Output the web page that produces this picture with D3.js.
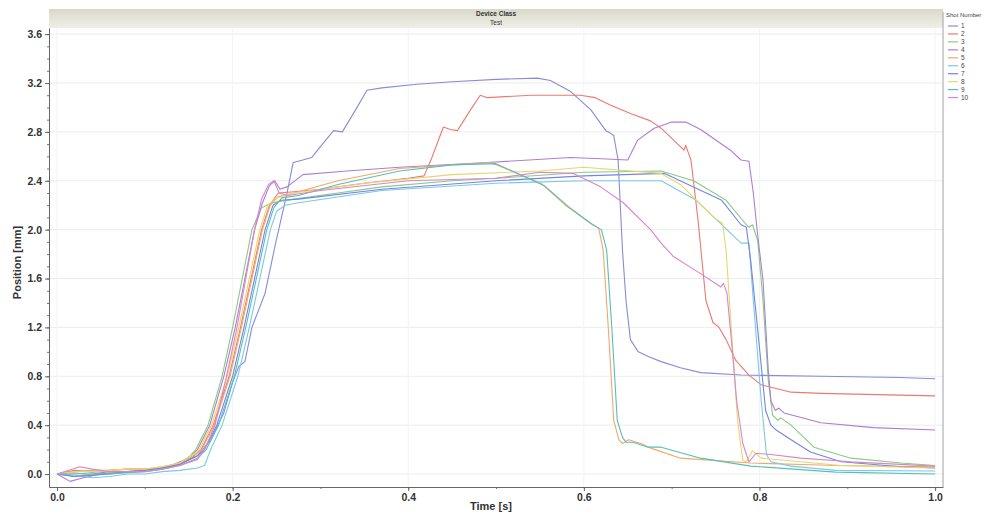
<!DOCTYPE html>
<html>
<head>
<meta charset="utf-8">
<script src="https://cdn.jsdelivr.net/npm/d3@7"></script>
<style>
  body { margin: 0; background: #fff; }
  text { font-family: "Liberation Sans", Arial, sans-serif; }
</style>
</head>
<body>
<div id="graph"></div>
<script>

// tick values
var yTicks = [0.0, 0.4, 0.8, 1.2, 1.6, 2.0, 2.4, 2.8, 3.2, 3.6];
var xTicks = [0.0, 0.2, 0.4, 0.6, 0.8, 1.0];

var shotNames = ["1", "2", "3", "4", "5", "6", "7", "8", "9", "10"];
var shotColors = ["#8a8ad8", "#ea7a70", "#86cc82", "#ab7fd2", "#f2a86a", "#7cc8e8", "#7484e2", "#e4d86c", "#56c0b6", "#db84ca"];

// [time s, position mm]
var shot1 = [[0,0],[0.02,-0.02],[0.04,0.0],[0.06,0.02],[0.08,0.02],[0.1,0.03],[0.12,0.05],[0.14,0.08],[0.16,0.15],[0.175,0.28],[0.19,0.5],[0.2,0.75],[0.207,0.88],[0.214,0.92],[0.222,1.2],[0.237,1.48],[0.249,1.89],[0.262,2.3],[0.269,2.55],[0.28,2.57],[0.29,2.59],[0.3,2.68],[0.315,2.81],[0.325,2.8],[0.34,2.98],[0.353,3.14],[0.37,3.16],[0.41,3.19],[0.45,3.21],[0.5,3.23],[0.547,3.24],[0.562,3.22],[0.585,3.13],[0.608,2.98],[0.625,2.81],[0.63,2.79],[0.634,2.77],[0.639,2.57],[0.644,1.83],[0.648,1.42],[0.653,1.1],[0.662,1.0],[0.674,0.96],[0.688,0.92],[0.71,0.87],[0.733,0.83],[0.779,0.81],[0.87,0.8],[0.96,0.79],[1.0,0.78]];
var shot2 = [[0,0],[0.02,0.03],[0.04,0.02],[0.06,0.03],[0.08,0.04],[0.1,0.04],[0.12,0.05],[0.14,0.08],[0.155,0.14],[0.164,0.2],[0.178,0.4],[0.196,0.8],[0.209,1.2],[0.221,1.6],[0.233,2.0],[0.242,2.2],[0.252,2.3],[0.27,2.31],[0.3,2.33],[0.35,2.38],[0.4,2.42],[0.418,2.44],[0.427,2.59],[0.44,2.84],[0.448,2.82],[0.456,2.81],[0.47,2.97],[0.482,3.1],[0.49,3.08],[0.54,3.1],[0.596,3.1],[0.613,3.08],[0.63,3.02],[0.653,2.95],[0.676,2.89],[0.688,2.83],[0.714,2.65],[0.716,2.69],[0.722,2.57],[0.73,2.08],[0.739,1.42],[0.747,1.24],[0.754,1.2],[0.762,1.1],[0.773,0.93],[0.788,0.81],[0.802,0.73],[0.836,0.67],[0.87,0.66],[1.0,0.64]];
var shot3 = [[0,0],[0.02,0.01],[0.04,-0.01],[0.06,0.01],[0.08,0.02],[0.1,0.03],[0.12,0.05],[0.14,0.09],[0.152,0.15],[0.158,0.2],[0.172,0.4],[0.188,0.8],[0.2,1.2],[0.211,1.6],[0.222,2.0],[0.233,2.18],[0.245,2.22],[0.27,2.25],[0.32,2.3],[0.37,2.35],[0.45,2.4],[0.5,2.42],[0.6,2.47],[0.688,2.48],[0.725,2.4],[0.762,2.24],[0.785,2.04],[0.788,2.02],[0.792,2.04],[0.798,1.91],[0.804,1.42],[0.81,0.77],[0.815,0.48],[0.821,0.44],[0.824,0.46],[0.836,0.4],[0.862,0.22],[0.904,0.13],[0.961,0.09],[1.0,0.07]];
var shot4 = [[0,0],[0.015,-0.06],[0.03,-0.03],[0.05,0.0],[0.07,0.01],[0.09,0.02],[0.11,0.04],[0.13,0.07],[0.15,0.13],[0.16,0.2],[0.174,0.4],[0.19,0.8],[0.203,1.2],[0.214,1.6],[0.225,2.0],[0.234,2.22],[0.242,2.36],[0.248,2.4],[0.254,2.33],[0.262,2.35],[0.28,2.45],[0.33,2.48],[0.39,2.51],[0.49,2.55],[0.585,2.59],[0.62,2.58],[0.65,2.57],[0.661,2.73],[0.68,2.83],[0.7,2.88],[0.716,2.88],[0.733,2.82],[0.767,2.65],[0.779,2.57],[0.788,2.56],[0.793,2.3],[0.798,1.95],[0.804,1.59],[0.81,0.85],[0.813,0.6],[0.818,0.52],[0.822,0.54],[0.828,0.5],[0.87,0.42],[0.93,0.38],[1.0,0.36]];
var shot5 = [[0,0],[0.02,0.02],[0.04,0.03],[0.06,0.03],[0.08,0.04],[0.1,0.04],[0.12,0.06],[0.14,0.09],[0.155,0.15],[0.165,0.2],[0.179,0.4],[0.197,0.8],[0.21,1.2],[0.222,1.6],[0.234,2.0],[0.243,2.2],[0.252,2.27],[0.27,2.3],[0.32,2.4],[0.39,2.5],[0.45,2.53],[0.494,2.55],[0.551,2.38],[0.579,2.2],[0.608,2.05],[0.611,2.04],[0.617,2.01],[0.622,1.83],[0.628,1.18],[0.634,0.44],[0.64,0.28],[0.644,0.25],[0.651,0.28],[0.665,0.25],[0.677,0.21],[0.71,0.13],[0.79,0.09],[0.887,0.07],[1.0,0.06]];
var shot6 = [[0,0],[0.02,-0.01],[0.04,-0.03],[0.06,-0.02],[0.08,0.0],[0.1,0.0],[0.12,0.02],[0.14,0.03],[0.16,0.05],[0.168,0.07],[0.175,0.2],[0.188,0.4],[0.206,0.8],[0.219,1.2],[0.231,1.6],[0.243,2.0],[0.25,2.15],[0.26,2.2],[0.275,2.22],[0.37,2.32],[0.5,2.38],[0.6,2.4],[0.688,2.4],[0.728,2.24],[0.779,1.89],[0.788,1.89],[0.793,1.42],[0.802,0.6],[0.808,0.16],[0.813,0.1],[0.836,0.065],[0.887,0.03],[1.0,0.025]];
var shot7 = [[0,0],[0.02,-0.02],[0.04,-0.01],[0.06,0.0],[0.08,0.02],[0.1,0.03],[0.12,0.05],[0.14,0.08],[0.16,0.15],[0.168,0.2],[0.182,0.4],[0.2,0.8],[0.213,1.2],[0.225,1.6],[0.237,2.0],[0.246,2.2],[0.255,2.24],[0.275,2.25],[0.37,2.33],[0.5,2.4],[0.6,2.44],[0.692,2.46],[0.757,2.24],[0.779,2.04],[0.785,2.02],[0.79,1.75],[0.798,1.18],[0.807,0.52],[0.813,0.4],[0.819,0.36],[0.836,0.28],[0.858,0.18],[0.893,0.1],[0.961,0.06],[1.0,0.05]];
var shot8 = [[0,0],[0.02,0.02],[0.04,0.02],[0.06,0.03],[0.08,0.04],[0.1,0.04],[0.12,0.06],[0.14,0.09],[0.155,0.16],[0.162,0.2],[0.176,0.4],[0.194,0.8],[0.207,1.2],[0.219,1.6],[0.231,2.0],[0.24,2.2],[0.25,2.26],[0.27,2.3],[0.35,2.38],[0.45,2.45],[0.55,2.48],[0.6,2.51],[0.688,2.46],[0.71,2.37],[0.748,2.1],[0.758,2.05],[0.762,1.83],[0.768,1.18],[0.775,0.44],[0.781,0.11],[0.785,0.1],[0.792,0.19],[0.802,0.13],[0.847,0.1],[0.893,0.07],[1.0,0.05]];
var shot9 = [[0,0],[0.02,0.0],[0.04,0.01],[0.06,0.0],[0.08,0.01],[0.1,0.02],[0.12,0.04],[0.14,0.07],[0.16,0.13],[0.17,0.2],[0.184,0.4],[0.202,0.8],[0.215,1.2],[0.227,1.6],[0.239,2.0],[0.247,2.18],[0.256,2.26],[0.275,2.28],[0.32,2.37],[0.39,2.48],[0.45,2.53],[0.5,2.54],[0.555,2.36],[0.582,2.19],[0.61,2.04],[0.62,2.0],[0.626,1.83],[0.632,1.18],[0.638,0.44],[0.644,0.3],[0.648,0.26],[0.656,0.26],[0.673,0.22],[0.688,0.22],[0.733,0.13],[0.79,0.065],[0.887,0.016],[1.0,0.0]];
var shot10 = [[0,0],[0.026,0.06],[0.04,0.04],[0.06,0.02],[0.08,0.02],[0.1,0.02],[0.12,0.04],[0.14,0.07],[0.16,0.12],[0.168,0.2],[0.18,0.4],[0.193,0.8],[0.205,1.2],[0.215,1.6],[0.225,2.0],[0.233,2.25],[0.241,2.37],[0.247,2.4],[0.253,2.3],[0.263,2.28],[0.3,2.32],[0.4,2.4],[0.5,2.42],[0.55,2.47],[0.588,2.46],[0.619,2.35],[0.645,2.22],[0.676,2.0],[0.688,1.89],[0.702,1.78],[0.733,1.64],[0.756,1.53],[0.759,1.56],[0.763,1.48],[0.768,1.1],[0.774,0.6],[0.781,0.25],[0.788,0.1],[0.796,0.17],[0.813,0.16],[0.847,0.13],[0.904,0.1],[1.0,0.065]];

var shots = [shot1, shot2, shot3, shot4, shot5, shot6, shot7, shot8, shot9, shot10];

var W = 995, H = 514;
var plot = {left: 49, right: 943, top: 28, bottom: 487};

var svg = d3.select('#graph')
  .append('svg')
    .attr("width", W)
    .attr("height", H);

var x = d3.scaleLinear()
    .domain([-0.0091, 1.009])
    .range([plot.left, plot.right]);

var y = d3.scaleLinear()
    .domain([-0.106, 3.65])
    .range([plot.bottom, plot.top]);

// header band
var grad = svg.append("defs").append("linearGradient")
    .attr("id", "hdr").attr("x1", 0).attr("x2", 0).attr("y1", 0).attr("y2", 1);
grad.append("stop").attr("offset", "0%").attr("stop-color", "#d9d9c9");
grad.append("stop").attr("offset", "100%").attr("stop-color", "#efefe8");

svg.append("rect")
    .attr("x", plot.left)
    .attr("y", 9)
    .attr("width", plot.right - plot.left)
    .attr("height", plot.top - 9)
    .attr("fill", "url(#hdr)");

svg.append("text")
    .attr("x", (plot.left + plot.right) / 2)
    .attr("y", 16)
    .attr("text-anchor", "middle")
    .attr("font-size", 6.5)
    .attr("font-weight", "bold")
    .attr("fill", "#333")
    .text("Device Class");

svg.append("text")
    .attr("x", (plot.left + plot.right) / 2)
    .attr("y", 25)
    .attr("text-anchor", "middle")
    .attr("font-size", 6.5)
    .attr("fill", "#333")
    .text("Test");

// grid
svg.append("g")
  .selectAll("line")
  .data(yTicks)
  .enter().append("line")
    .attr("x1", plot.left).attr("x2", plot.right)
    .attr("y1", function(d) { return y(d); })
    .attr("y2", function(d) { return y(d); })
    .attr("stroke", "#ececec")
    .attr("stroke-width", 1);

svg.append("g")
  .selectAll("line")
  .data(xTicks)
  .enter().append("line")
    .attr("y1", plot.top).attr("y2", plot.bottom)
    .attr("x1", function(d) { return x(d); })
    .attr("x2", function(d) { return x(d); })
    .attr("stroke", "#f3f3f3")
    .attr("stroke-width", 1);

// right border
svg.append("line")
    .attr("x1", plot.right).attr("x2", plot.right)
    .attr("y1", 12).attr("y2", plot.bottom)
    .attr("stroke", "#a0a0a0")
    .attr("stroke-width", 1);

// Add Y axis
var yMinor = d3.range(0, 37).map(function(i) { return i / 10; });
svg.append("g")
    .attr("transform", "translate(" + plot.left + ",0)")
    .call(d3.axisLeft(y).tickValues(yMinor).tickSize(2).tickFormat(""))
    .call(function(g) { g.select(".domain").remove(); })
    .selectAll("line").attr("stroke", "#777");

var yAxis = svg.append("g")
    .attr("transform", "translate(" + plot.left + ",0)")
    .call(d3.axisLeft(y).tickValues(yTicks).tickSize(4).tickSizeOuter(0).tickFormat(d3.format(".1f")));
yAxis.select(".domain").attr("stroke", "#666");
yAxis.selectAll("line").attr("stroke", "#666");
yAxis.selectAll("text")
    .attr("font-family", "Liberation Sans, Arial, sans-serif")
    .attr("font-size", 10.5)
    .attr("font-weight", "bold")
    .attr("fill", "#333");

// Add X axis
var xMinor = d3.range(0, 11).map(function(i) { return i / 10; });
svg.append("g")
    .attr("transform", "translate(0," + plot.bottom + ")")
    .call(d3.axisBottom(x).tickValues(xMinor).tickSize(2).tickFormat(""))
    .call(function(g) { g.select(".domain").remove(); })
    .selectAll("line").attr("stroke", "#777");

var xAxis = svg.append("g")
    .attr("transform", "translate(0," + plot.bottom + ")")
    .call(d3.axisBottom(x).tickValues(xTicks).tickSize(4).tickSizeOuter(0).tickFormat(d3.format(".1f")));
xAxis.select(".domain").attr("stroke", "#666");
xAxis.selectAll("line").attr("stroke", "#666");
xAxis.selectAll("text")
    .attr("font-family", "Liberation Sans, Arial, sans-serif")
    .attr("font-size", 10.5)
    .attr("font-weight", "bold")
    .attr("fill", "#333");

// lines
var line = d3.line()
    .x(function(d) { return x(d[0]); })
    .y(function(d) { return y(d[1]); });

svg.append("g")
  .selectAll("path")
  .data(shots)
  .enter().append("path")
    .attr("fill", "none")
    .attr("stroke", function(d, i) { return shotColors[i]; })
    .attr("stroke-width", 1.1)
    .attr("stroke-linejoin", "round")
    .attr("d", line);

// axis names
svg.append("text")
    .attr("text-anchor", "middle")
    .attr("x", (plot.left + plot.right) / 2 - 5)
    .attr("y", 510)
    .attr("font-size", 11)
    .attr("font-weight", "bold")
    .attr("fill", "#333")
    .text("Time [s]");

svg.append("text")
    .attr("text-anchor", "middle")
    .attr("transform", "translate(21," + ((plot.top + plot.bottom) / 2 + 5) + ") rotate(-90)")
    .attr("font-size", 11)
    .attr("font-weight", "bold")
    .attr("fill", "#333")
    .text("Position [mm]");

// legend
var legend = svg.append("g");
legend.append("text")
    .attr("x", 946)
    .attr("y", 17)
    .attr("font-size", 6)
    .attr("fill", "#444")
    .text("Shot Number");

var item = legend.selectAll(".item")
  .data(shotNames)
  .enter().append("g")
    .attr("class", "item")
    .attr("transform", function(d, i) { return "translate(0," + (26 + i * 7.95) + ")"; });

item.append("line")
    .attr("x1", 948).attr("x2", 958)
    .attr("y1", 0).attr("y2", 0)
    .attr("stroke", function(d, i) { return shotColors[i]; })
    .attr("stroke-width", 1.2);

item.append("text")
    .attr("x", 961)
    .attr("y", 2.2)
    .attr("font-size", 6.5)
    .attr("fill", "#444")
    .text(function(d) { return d; });

</script>
</body>
</html>
